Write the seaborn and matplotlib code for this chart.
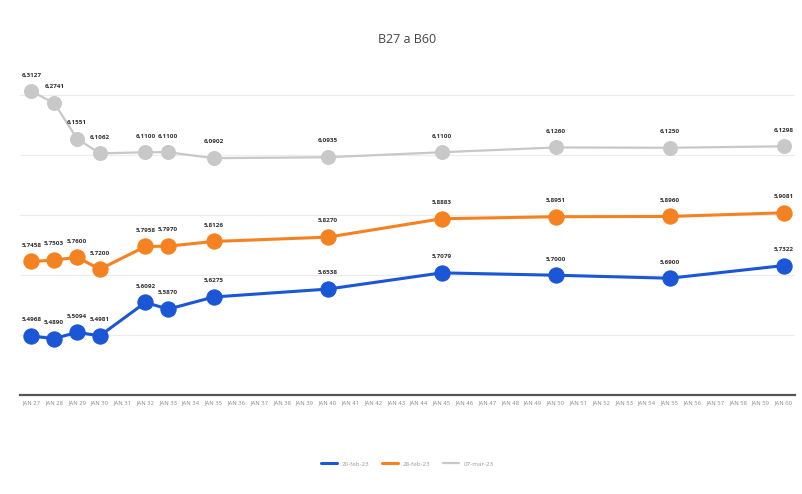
import matplotlib
matplotlib.use("Agg")
import matplotlib.pyplot as plt
import numpy as np
import pandas as pd
import seaborn as sns

# Datos
ticks = ["JAN %d" % n for n in range(27, 61)]
x_pts = ["JAN 27", "JAN 28", "JAN 29", "JAN 30", "JAN 32", "JAN 33",
         "JAN 35", "JAN 40", "JAN 45", "JAN 50", "JAN 55", "JAN 60"]
serie_azul = [5.4968, 5.4890, 5.5094, 5.4981, 5.6092, 5.5870,
              5.6275, 5.6538, 5.7079, 5.7000, 5.6900, 5.7322]
serie_naranja = [5.7458, 5.7503, 5.7600, 5.7200, 5.7958, 5.7970,
                 5.8126, 5.8270, 5.8883, 5.8951, 5.8960, 5.9081]
serie_gris = [6.3127, 6.2741, 6.1551, 6.1062, 6.1100, 6.1100,
              6.0902, 6.0935, 6.1100, 6.1260, 6.1250, 6.1298]
nombres = ["20-feb-23", "28-feb-23", "07-mar-23"]
colores = ["#1a56d6", "#f58220", "#c8c8c8"]

sns.set_theme(style="white")
plt.rcParams['font.family'] = ['Open Sans', 'DejaVu Sans']

pos = {t: i for i, t in enumerate(ticks)}
df = pd.DataFrame({
    "x": [pos[t] for t in x_pts] * 3,
    "valor": serie_azul + serie_naranja + serie_gris,
    "serie": np.repeat(nombres, len(x_pts)),
})

fig, ax = plt.subplots(figsize=(8.03, 4.94), dpi=100)
fig.subplots_adjust(left=0.025, right=0.99, top=0.88, bottom=0.2)

for nombre, color, ms in zip(nombres, colores, [11, 11, 10]):
    d = df[df.serie == nombre]
    sns.lineplot(data=d, x="x", y="valor", ax=ax, color=color, marker="o",
                 markersize=ms, markeredgecolor=color,
                 linewidth=2.2 if nombre != nombres[2] else 1.6, label=nombre)
    for xv, yv in zip(d.x, d.valor):
        ax.annotate(("%.4f" % yv).replace(".", ","), (xv, yv), xytext=(0, 10),
                    textcoords="offset points", ha="center", va="bottom",
                    fontsize=4.6, fontweight="bold", color="#333333")

ax.set_xlim(-0.5, len(ticks) - 0.5)
ax.set_ylim(5.3, 6.42)
ax.set_xticks(range(len(ticks)))
ax.set_xticklabels(ticks, fontsize=4.2, color="#888888")
ax.set_yticks([5.5, 5.7, 5.9, 6.1, 6.3])
ax.set_yticklabels([])
ax.tick_params(axis="both", length=0)
ax.yaxis.grid(True, color="#ececec", linewidth=0.8)
for s in ["top", "right", "left"]:
    ax.spines[s].set_visible(False)
ax.spines["bottom"].set_color("#555555")
ax.spines["bottom"].set_linewidth(1.6)
ax.set_xlabel("")
ax.set_ylabel("")
ax.set_title("B27 a B60", fontsize=9, color="#444444", pad=12)

ax.legend(loc="upper center", bbox_to_anchor=(0.5, -0.18), ncol=3, frameon=False,
          fontsize=4.5, handlelength=2.5, markerscale=0, labelcolor="#999999")

fig.savefig("out.png", dpi=100)
